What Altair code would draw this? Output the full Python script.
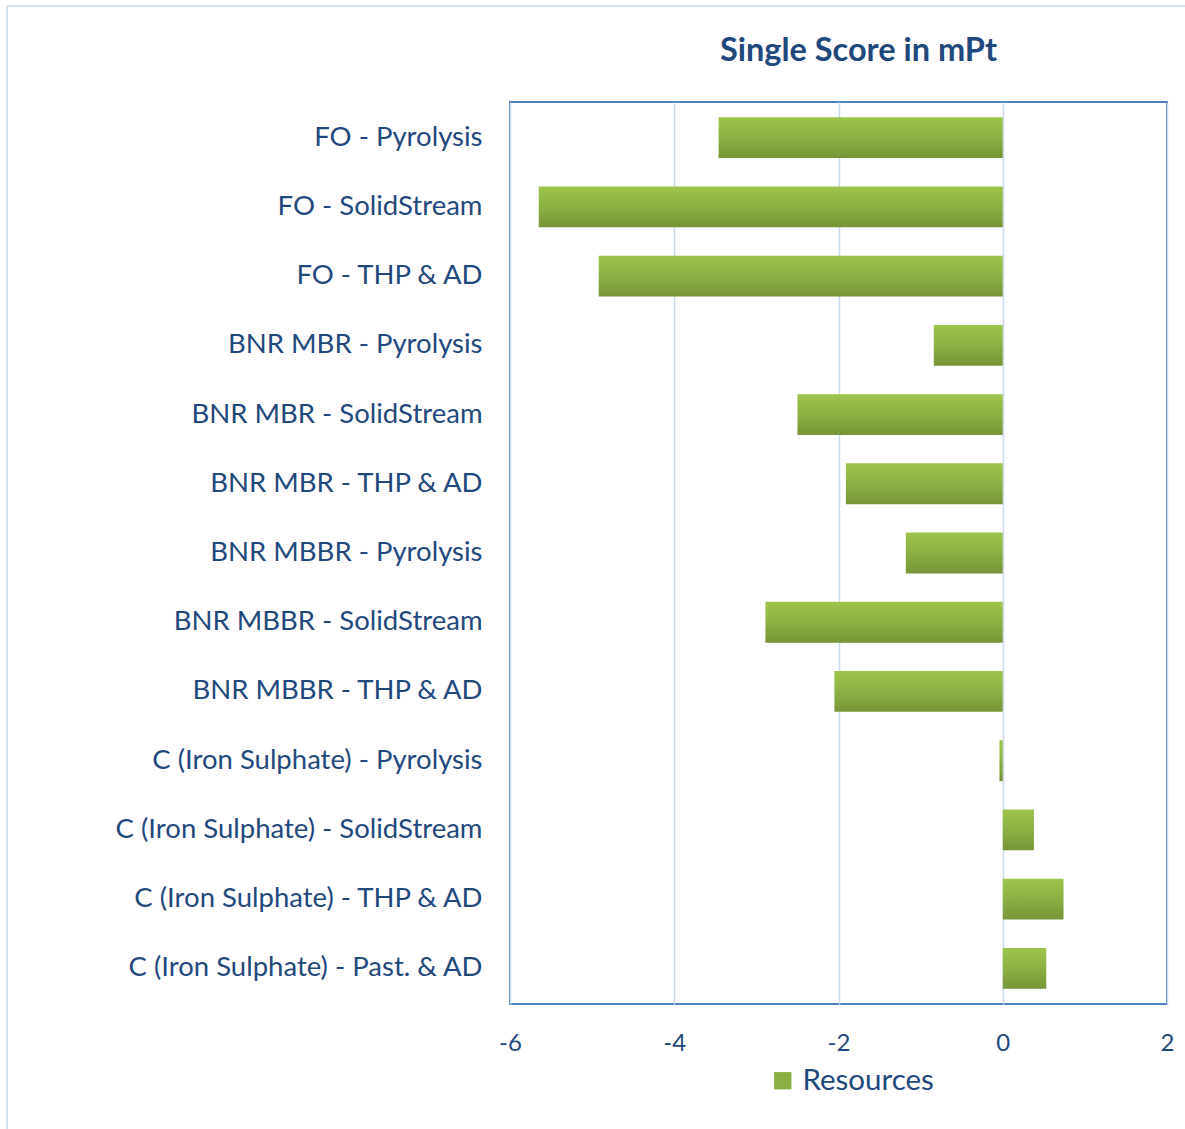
import altair as alt
import pandas as pd

categories = [
    "FO - Pyrolysis",
    "FO - SolidStream",
    "FO - THP & AD",
    "BNR MBR - Pyrolysis",
    "BNR MBR - SolidStream",
    "BNR MBR - THP & AD",
    "BNR MBBR - Pyrolysis",
    "BNR MBBR - SolidStream",
    "BNR MBBR - THP & AD",
    "C (Iron Sulphate) - Pyrolysis",
    "C (Iron Sulphate) - SolidStream",
    "C (Iron Sulphate) - THP & AD",
    "C (Iron Sulphate) - Past. & AD",
]
values = [-3.46, -5.65, -4.92, -0.84, -2.50, -1.91, -1.18, -2.89, -2.05, -0.04, 0.38, 0.74, 0.53]
series = ["Resources"] * len(categories)
x_ticks = [-6, -4, -2, 0, 2]

df = pd.DataFrame({"Scenario": categories, "Score": values, "Series": series})

TEXT = "#1F497D"
FONT = "Lato"

grad = alt.LinearGradient(
    gradient="linear",
    x1=0, y1=0, x2=0, y2=1,
    stops=[alt.GradientStop(color="#9DC54B", offset=0),
           alt.GradientStop(color="#8BB043", offset=0.5),
           alt.GradientStop(color="#769537", offset=1)],
)

x_enc = alt.X("Score:Q", scale=alt.Scale(domain=[-6, 2], nice=False),
              axis=alt.Axis(values=x_ticks, title=None, ticks=False, domain=False,
                            grid=True, gridColor="#C9D9EE", gridWidth=1.5, labelFlush=False,
                            labelExpr="datum.value < 0 ? '-' + format(-datum.value, 'd') : format(datum.value, 'd')",
                            labelFontSize=24, labelColor=TEXT, labelFont=FONT, labelPadding=27))
y_enc = alt.Y("Scenario:N", sort=categories,
              scale=alt.Scale(paddingInner=0.41, paddingOuter=0.22),
              axis=alt.Axis(title=None, ticks=False, domain=False, labelFontSize=27.5,
                            labelColor=TEXT, labelFont=FONT, labelPadding=28, labelLimit=600))

bars = alt.Chart(df).mark_bar(fill=grad).encode(x=x_enc, y=y_enc)

legend_layer = alt.Chart(df).mark_bar(opacity=0).encode(
    x="Score:Q", y=alt.Y("Scenario:N", sort=categories),
    color=alt.Color("Series:N", scale=alt.Scale(range=["#8AAF42"]),
                    legend=alt.Legend(title=None, orient="none", legendX=258, legendY=964,
                                      symbolType="square", symbolSize=300, symbolOpacity=1,
                                      symbolStrokeWidth=0, labelFontSize=29.5, labelColor=TEXT,
                                      labelFont=FONT, labelOffset=5)),
)

frame_left = alt.Chart(df).mark_rule(color="#D4E1F2", strokeWidth=2, clip=False).encode(
    x=alt.value(-503), y=alt.value(-96), y2=alt.value(1040))
frame_top = alt.Chart(df).mark_rule(color="#D4E1F2", strokeWidth=2, clip=False).encode(
    x=alt.value(-503), x2=alt.value(700), y=alt.value(-96))

chart = alt.layer(bars, legend_layer, frame_left, frame_top).properties(
    width=657, height=902,
    background="white",
    title=alt.TitleParams("Single Score in mPt", fontSize=32.5, fontWeight="bold", color=TEXT,
                          font=FONT, anchor="middle", dx=20, dy=94, offset=32, frame="group"),
    autosize=alt.AutoSizeParams(type="none"),
    padding={"left": 510, "top": 102, "right": 18, "bottom": 125},
).configure_view(stroke="#4F81BD", strokeWidth=2)

chart.save("out.html", embed_options={"renderer": "svg", "actions": False})
